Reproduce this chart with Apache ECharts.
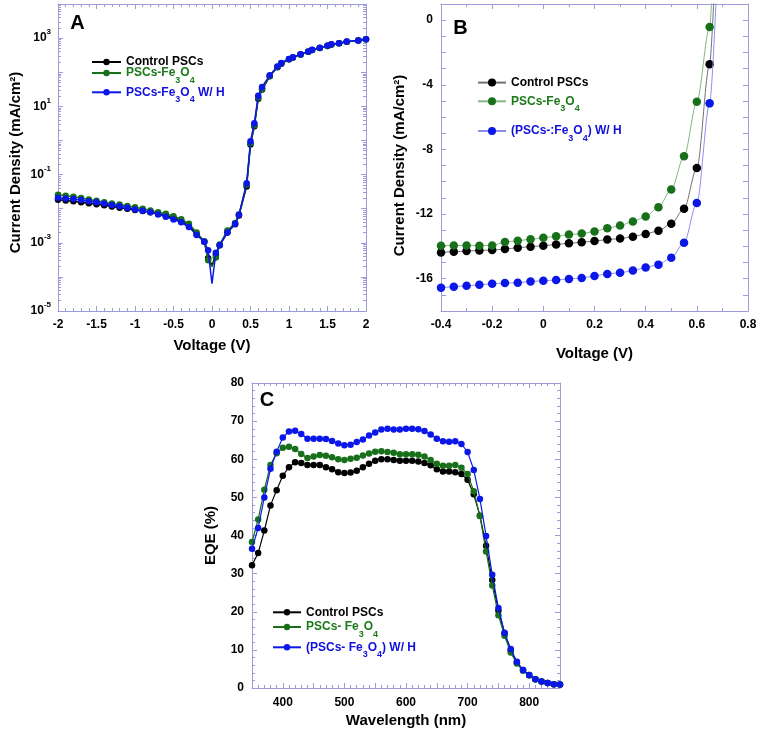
<!DOCTYPE html>
<html><head><meta charset="utf-8">
<script src="https://cdn.jsdelivr.net/npm/echarts@6/dist/echarts.min.js"></script>
<style>html,body{margin:0;padding:0;background:#fff}#c{width:760px;height:734px}</style>
</head><body><div id="c"></div>
<script>
// ---------- Panel A : J-V (log) ----------
const aV = [-2.0,-1.9,-1.8,-1.7,-1.6,-1.5,-1.4,-1.3,-1.2,-1.1,-1.0,-0.9,-0.8,-0.7,-0.6,-0.5,-0.4,-0.3,-0.2,-0.1,
  -0.05,0,0.05,0.1,0.2,0.3,0.35,0.45,0.5,0.55,0.6,0.65,0.75,0.85,0.9,1.0,1.05,1.15,1.25,1.3,1.4,1.5,1.55,1.65,1.75,1.9,2.0];
const aControl = [0.0182,0.0174,0.0166,0.0155,0.0145,0.0135,0.0126,0.0115,0.0107,0.0100,0.0091,0.0085,0.0078,0.0071,0.0062,0.0054,0.0044,0.0032,0.0018,0.00107,
  0.00035,0.00022,0.00044,0.00085,0.0020,0.0035,0.0063,0.045,0.76,2.6,16.6,31,76,141,178,240,269,331,398,447,513,589,646,708,776,851,933];
const aFe = [0.0257,0.0240,0.0224,0.0204,0.0186,0.0170,0.0155,0.0141,0.0132,0.0120,0.0110,0.0100,0.0089,0.0079,0.0071,0.0060,0.0049,0.0036,0.0020,0.0011,
  0.00031,0.00020,0.00037,0.00089,0.0023,0.0038,0.0068,0.050,0.83,2.8,17.8,33,78,145,182,240,269,331,398,447,513,589,646,708,776,851,933];
const aFeH = [0.0209,0.0200,0.0191,0.0178,0.0166,0.0155,0.0141,0.0129,0.0117,0.0107,0.0095,0.0087,0.0078,0.0068,0.0058,0.0048,0.0040,0.0029,0.0017,0.00107,
  0.0006,0.000063,0.00051,0.00085,0.0020,0.0036,0.0066,0.056,0.95,3.2,20.4,37,81,148,186,245,275,339,407,457,525,603,661,708,794,851,933];

// ---------- Panel B : J-V (linear) ----------
const bV = [-0.4,-0.35,-0.3,-0.25,-0.2,-0.15,-0.1,-0.05,0,0.05,0.1,0.15,0.2,0.25,0.3,0.35,0.4,0.45,0.5,0.55,0.6,0.65];
const bControl = [-14.38,-14.33,-14.29,-14.25,-14.23,-14.17,-14.08,-14.02,-13.96,-13.88,-13.81,-13.75,-13.67,-13.58,-13.52,-13.40,-13.23,-13.04,-12.60,-11.67,-9.15,-2.73];
const bFe = [-13.96,-13.94,-13.94,-13.96,-13.94,-13.73,-13.65,-13.56,-13.46,-13.38,-13.27,-13.21,-13.08,-12.88,-12.71,-12.46,-12.15,-11.58,-10.48,-8.43,-5.05,-0.43];
const bFeH = [-16.56,-16.50,-16.44,-16.38,-16.31,-16.27,-16.25,-16.17,-16.13,-16.08,-16.02,-15.96,-15.83,-15.71,-15.63,-15.50,-15.31,-15.13,-14.71,-13.77,-11.31,-5.15];
const bTailV = [0.667, 0.659, 0.676];   // fitted curve end (leaves the top of the frame)
const bTailJ = [1.5, 1.5, 1.5];

// ---------- Panel C : EQE ----------
const cW = [350,360,370,380,390,400,410,420,430,440,450,460,470,480,490,500,510,520,530,540,550,560,570,580,590,600,
  610,620,630,640,650,660,670,680,690,700,710,720,730,740,750,760,770,780,790,800,810,820,830,840,850];
const cControl = [32.2,35.4,41.3,47.9,51.9,55.7,57.9,59.2,59.0,58.5,58.5,58.5,57.9,57.4,56.6,56.4,56.5,57.0,57.9,58.8,59.6,60.0,60.0,59.8,59.6,59.6,
  59.6,59.4,59.0,58.4,57.4,56.8,56.8,56.6,56.1,54.6,50.8,45.2,37.3,28.3,20.3,14.3,9.9,6.7,4.7,3.4,2.3,1.7,1.3,1.0,0.9];
const cFe = [38.3,44.2,52.0,58.5,61.6,63.0,63.3,62.7,61.4,60.3,60.7,61.1,60.9,60.5,60.0,59.8,60.1,60.4,61.0,61.5,62.0,62.1,61.9,61.7,61.3,61.3,
  61.3,61.2,60.7,59.8,58.8,58.3,58.3,58.5,57.8,56.1,51.6,45.1,35.8,26.9,19.1,13.7,9.3,6.4,4.5,3.3,2.3,1.7,1.3,1.0,0.9];
const cFeH = [36.5,42.0,50.0,57.5,62.0,65.7,67.3,67.5,66.6,65.4,65.4,65.4,65.3,64.8,64.1,63.7,63.8,64.5,65.2,66.2,67.0,67.8,68.0,67.8,67.8,68.0,
  68.0,67.9,67.4,66.5,65.4,64.7,64.6,64.7,64.0,61.9,57.2,49.6,39.9,29.7,21.0,14.5,10.2,6.9,4.7,3.4,2.3,1.7,1.3,1.0,0.9];

// ---------- styling ----------
const FONT = '"Liberation Sans", Arial, Helvetica, sans-serif';
const AX = '#9c9cda';
const BLACK = '#000000', GREEN = '#18701a', BLUE = '#0b16e8';
const GREEN_T = '#1a7a1a', BLUE_T = '#1010dd';

function pairs(xs, ys) { return xs.map((x, i) => [x, ys[i]]); }

function axis(base) {
  const a = {
    type: 'value',
    axisLine: { show: true, onZero: false, lineStyle: { color: AX, width: 1 } },
    axisTick: { show: true, inside: true, length: 5, lineStyle: { color: AX, width: 1 } },
    minorTick: { show: true, splitNumber: 5, length: 3, lineStyle: { color: AX, width: 1 } },
    splitLine: { show: false },
    minorSplitLine: { show: false },
    axisLabel: { show: true, color: '#000', fontFamily: FONT, fontWeight: 'bold', fontSize: 12, margin: 8 },
    nameTextStyle: { color: '#000', fontFamily: FONT, fontWeight: 'bold', fontSize: 15 }
  };
  for (const k in base) {
    if (a[k] && typeof a[k] === 'object' && typeof base[k] === 'object' && !Array.isArray(base[k])) a[k] = Object.assign({}, a[k], base[k]);
    else a[k] = base[k];
  }
  return a;
}

const supRich = {
  m: { fontFamily: FONT, fontWeight: 'bold', fontSize: 12, lineHeight: 20, color: '#000' },
  s: { fontFamily: FONT, fontWeight: 'bold', fontSize: 8, lineHeight: 9, verticalAlign: 'top', color: '#000' }
};

const xAxis = [
  axis({ gridIndex: 0, position: 'bottom', min: -2, max: 2, interval: 0.5, minorTick: { splitNumber: 5 },
         name: 'Voltage (V)', nameLocation: 'middle', nameGap: 27 }),
  axis({ gridIndex: 0, position: 'top', min: -2, max: 2, interval: 0.5, minorTick: { splitNumber: 5 }, axisLabel: { show: false } }),
  axis({ gridIndex: 1, position: 'bottom', min: -0.4, max: 0.8, interval: 0.2, minorTick: { splitNumber: 2 },
         name: 'Voltage (V)', nameLocation: 'middle', nameGap: 35 }),
  axis({ gridIndex: 1, position: 'top', min: -0.4, max: 0.8, interval: 0.2, minorTick: { splitNumber: 2 }, axisLabel: { show: false } }),
  axis({ gridIndex: 2, position: 'bottom', min: 350, max: 850, interval: 50, minorTick: { splitNumber: 5 },
         axisLabel: { margin: 9, formatter: v => (v % 100 === 0 ? String(v) : '') },
         name: 'Wavelength (nm)', nameLocation: 'middle', nameGap: 25 }),
  axis({ gridIndex: 2, position: 'top', min: 350, max: 850, interval: 50, minorTick: { splitNumber: 5 }, axisLabel: { show: false } })
];

const logLabel = v => {
  const e = Math.round(Math.log10(v));
  if (e % 2 === 0) return '';
  return '{m|10}{s|' + e + '}';
};

const nameStyle = padR => ({ color: '#000', fontFamily: FONT, fontWeight: 'bold', fontSize: 15, padding: [0, padR, 0, 0] });

const yAxis = [
  axis({ gridIndex: 0, type: 'log', logBase: 10, position: 'left', min: 1e-5, max: 1e4, minorTick: { splitNumber: 9 },
         axisLabel: { margin: 7, formatter: logLabel, rich: supRich },
         name: 'Current Density (mA/cm²)', nameLocation: 'middle', nameRotate: 90, nameGap: 35, nameTextStyle: nameStyle(10) }),
  axis({ gridIndex: 0, type: 'log', logBase: 10, position: 'right', min: 1e-5, max: 1e4, minorTick: { splitNumber: 9 }, axisLabel: { show: false } }),
  axis({ gridIndex: 1, position: 'left', min: -18, max: 1, interval: 1, minorTick: { show: false },
         axisLabel: { formatter: v => (v % 4 === 0 && v <= 0 ? String(v) : '') },
         name: 'Current Density (mA/cm²)', nameLocation: 'middle', nameRotate: 90, nameGap: 34, nameTextStyle: nameStyle(16) }),
  axis({ gridIndex: 1, position: 'right', min: -18, max: 1, interval: 1, minorTick: { show: false }, axisLabel: { show: false } }),
  axis({ gridIndex: 2, position: 'left', min: 0, max: 80, interval: 10, minorTick: { splitNumber: 5 },
         name: 'EQE (%)', nameLocation: 'middle', nameRotate: 90, nameGap: 34 }),
  axis({ gridIndex: 2, position: 'right', min: 0, max: 80, interval: 10, minorTick: { splitNumber: 5 }, axisLabel: { show: false } })
];

const grid = [
  { left: 58, top: 4, width: 308, height: 307 },
  { left: 441, top: 4, width: 307, height: 307 },
  { left: 252, top: 383, width: 308, height: 305 }
];

const series = [];
[[aControl, BLACK], [aFe, GREEN], [aFeH, BLUE]].forEach(([ys, col], k) => {
  series.push({
    name: 'A' + k, type: 'line', xAxisIndex: 0, yAxisIndex: 0, data: pairs(aV, ys),
    symbol: 'circle', symbolSize: v => (v[0] === 0 ? 0 : 6.5),
    lineStyle: { color: col, width: 1.5 }, itemStyle: { color: col }, z: 2 + k
  });
});
[[bControl, BLACK, '#707070'], [bFe, GREEN, '#84b484'], [bFeH, BLUE, '#8c8cee']].forEach(([ys, col, lc], k) => {
  series.push({
    name: 'B' + k, type: 'line', xAxisIndex: 2, yAxisIndex: 2,
    data: pairs(bV, ys).concat([[bTailV[k], bTailJ[k]]]),
    symbol: 'circle', symbolSize: (v, p) => (p.dataIndex >= bV.length ? 0 : 8.5),
    smooth: 0.3, smoothMonotone: 'x',
    lineStyle: { color: lc, width: 1 }, itemStyle: { color: col }, z: 2 + k
  });
});
[[cControl, BLACK], [cFe, GREEN], [cFeH, BLUE]].forEach(([ys, col], k) => {
  series.push({
    name: 'C' + k, type: 'line', xAxisIndex: 4, yAxisIndex: 4, data: pairs(cW, ys),
    symbol: 'circle', symbolSize: 6.5,
    lineStyle: { color: col, width: 1.2 }, itemStyle: { color: col }, z: 2 + k
  });
});

function richSet(main, sub, color) {
  const r = {};
  r[main] = { color, fontFamily: FONT, fontWeight: 'bold', fontSize: 12, lineHeight: 24 };
  r[sub] = { color, fontFamily: FONT, fontWeight: 'bold', fontSize: 9, lineHeight: 10, verticalAlign: 'bottom' };
  return r;
}
const legendRich = Object.assign({}, richSet('k', 'ks', '#000'), richSet('g', 'gs', GREEN_T), richSet('b', 'bs', BLUE_T));
const legendText = {
  A0: '{k|Control PSCs}',
  A1: '{g|PSCs-Fe}{gs|3}{g|O}{gs|4}',
  A2: '{b|PSCs-Fe}{bs|3}{b|O}{bs|4}{b| W/ H}',
  B0: '{k|Control PSCs}',
  B1: '{g|PSCs-Fe}{gs|3}{g|O}{gs|4}',
  B2: '{b|(PSCs-:Fe}{bs|3}{b|O}{bs|4}{b|) W/ H}',
  C0: '{k|Control PSCs}',
  C1: '{g|PSCs- Fe}{gs|3}{g|O}{gs|4}',
  C2: '{b|(PSCs- Fe}{bs|3}{b|O}{bs|4}{b|) W/ H}'
};
// [left, row centre y, icon width, icon height]
const legendPos = {
  A0: [91, 60.7, 29, 8], A1: [91, 71.7, 29, 8], A2: [91, 91, 29, 8],
  B0: [477, 82.3, 28, 10], B1: [477, 101, 28, 10], B2: [477, 130.7, 28, 10],
  C0: [272, 611, 28, 8], C1: [272, 625.7, 28, 8], C2: [272, 646, 28, 8]
};
const legend = Object.keys(legendPos).map(n => ({
  show: true, orient: 'vertical', left: legendPos[n][0], top: legendPos[n][1] - legendPos[n][3] / 2 - 0.7,
  itemWidth: legendPos[n][2], itemHeight: legendPos[n][3], itemGap: 0, padding: 0,
  selectedMode: false, data: [n],
  formatter: name => legendText[name],
  textStyle: { fontFamily: FONT, fontWeight: 'bold', fontSize: 12, rich: legendRich }
}));

const letter = (t, x, y) => ({
  type: 'text', x, y, z: 100,
  style: { text: t, fill: '#000', fontFamily: FONT, fontWeight: 'bold', fontSize: 20, align: 'center', verticalAlign: 'middle' }
});

const chart = echarts.init(document.getElementById('c'), null, { renderer: 'canvas' });
chart.setOption({
  animation: false,
  backgroundColor: '#ffffff',
  grid, xAxis, yAxis, series, legend,
  graphic: [letter('A', 77.5, 23), letter('B', 460.5, 28), letter('C', 267, 400)]
});
</script>
</body></html>
